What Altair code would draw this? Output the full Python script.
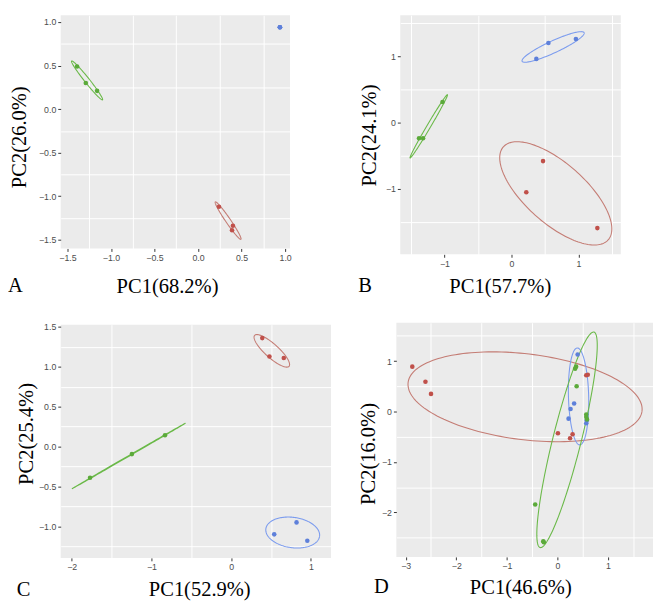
import altair as alt
import numpy as np
import pandas as pd

POINT_COLORS = {"red": "#C0504A", "green": "#5BAA3A", "blue": "#5E80DA"}
LINE_COLORS = {"red": "#C47C74", "green": "#6AB948", "blue": "#7C9CEE"}

# ---------------- Panel A ----------------
a_group = ["green", "green", "green", "red", "red", "red", "blue", "blue", "blue"]
a_x = [-1.39, -1.29, -1.16, 0.24, 0.40, 0.39, 0.94, 0.94, 0.94]
a_y = [0.49, 0.30, 0.21, -1.12, -1.34, -1.39, 0.94, 0.94, 0.94]
a_ell_group = ["green", "red"]
a_ell_cx = [-1.275, 0.345]
a_ell_cy = [0.33, -1.28]
a_ell_a = [0.285, 0.26]
a_ell_b = [0.028, 0.028]
a_ell_ang = [-51.5, -55.6]

# ---------------- Panel B ----------------
b_group = ["blue", "blue", "blue", "green", "green", "green", "red", "red", "red"]
b_x = [0.37, 0.55, 0.96, -1.03, -1.38, -1.32, 0.47, 0.22, 1.28]
b_y = [0.96, 1.20, 1.26, 0.31, -0.235, -0.235, -0.58, -1.05, -1.59]
b_ell_group = ["blue", "green", "red"]
b_ell_cx = [0.62, -1.235, 0.66]
b_ell_cy = [1.14, -0.056, -1.066]
b_ell_a = [0.51, 0.553, 1.05]
b_ell_b = [0.09, 0.028, 0.45]
b_ell_ang = [25.0, 59.7, -42.0]

# ---------------- Panel C ----------------
c_group = ["red", "red", "red", "green", "green", "green", "blue", "blue", "blue"]
c_x = [0.39, 0.48, 0.66, -1.77, -1.245, -0.83, 0.82, 0.54, 0.955]
c_y = [1.36, 1.13, 1.11, -0.39, -0.094, 0.143, -0.95, -1.10, -1.18]
c_ell_group = ["red", "green", "blue"]
c_ell_cx = [0.51, -1.282, 0.772]
c_ell_cy = [1.20, -0.116, -1.077]
c_ell_a = [0.29, 0.82, 0.34]
c_ell_b = [0.085, 0.004, 0.19]
c_ell_ang = [-42.0, 30.0, -8.0]

# ---------------- Panel D ----------------
d_group = (["red"] * 8) + (["blue"] * 6) + (["green"] * 9)
d_x = [-2.87, -2.61, -2.50, 0.57, 0.60, 0.01, 0.30, 0.25,
       0.40, 0.33, 0.26, 0.22, 0.57, 0.58,
       0.37, 0.35, 0.38, 0.57, 0.57, 0.585, -0.44, -0.28, -0.27]
d_y = [0.89, 0.59, 0.35, 0.72, 0.73, -0.43, -0.45, -0.53,
       1.13, 0.16, 0.05, -0.14, -0.23, -0.17,
       0.89, 0.85, 0.50, -0.06, -0.11, -0.155, -1.84, -2.57, -2.59]
d_ell_group = ["red", "blue", "green"]
d_ell_cx = [-0.64, 0.418, 0.19]
d_ell_cy = [0.293, 0.30, -0.56]
d_ell_a = [2.33, 0.96, 2.2]
d_ell_b = [0.85, 0.2, 0.28]
d_ell_ang = [-7.0, 91.5, 76.0]


def points_df(groups, xs, ys):
    return pd.DataFrame({
        "group": groups, "x": xs, "y": ys,
        "pc": [POINT_COLORS[g] for g in groups],
    })


def ellipse_df(groups, cx, cy, ra, rb, ang, n=160):
    rows = []
    t = np.linspace(0, 2 * np.pi, n)
    for g, x0, y0, a, b, th in zip(groups, cx, cy, ra, rb, ang):
        r = np.deg2rad(th)
        ex = x0 + a * np.cos(t) * np.cos(r) - b * np.sin(t) * np.sin(r)
        ey = y0 + a * np.cos(t) * np.sin(r) + b * np.sin(t) * np.cos(r)
        for i, (px, py) in enumerate(zip(ex, ey)):
            rows.append({"group": g, "x": px, "y": py, "i": i, "lc": LINE_COLORS[g]})
    return pd.DataFrame(rows)


def panel(pts, ell, xdom, ydom, xmaj, ymaj, xmin, ymin, xfmt, yfmt,
          xtitle, ytitle, letter, w, h, xt, yt, right_ext=0):
    xs = alt.Scale(domain=xdom, nice=False, zero=False)
    ys = alt.Scale(domain=ydom, nice=False, zero=False)
    minor = alt.Chart(pts).mark_point(opacity=0).encode(
        x=alt.X("x:Q", scale=xs, axis=alt.Axis(
            values=xmin, labels=False, ticks=False, domain=False, title=None,
            grid=True, gridColor="white", gridWidth=1.0, orient="top",
            minExtent=0, maxExtent=0, offset=0)),
        y=alt.Y("y:Q", scale=ys, axis=alt.Axis(
            values=ymin, labels=False, ticks=False, domain=False, title=None,
            grid=True, gridColor="white", gridWidth=1.0, orient="right",
            minExtent=right_ext, maxExtent=right_ext, offset=0)),
    )
    lines = alt.Chart(ell).mark_line(strokeWidth=1.1).encode(
        x=alt.X("x:Q", scale=xs, axis=alt.Axis(
            values=xmaj, format=xfmt, title=xtitle, orient="bottom",
            labelFlush=False,
            titleX=xt[0], titleY=xt[1], titleAlign="center",
            titleBaseline="alphabetic", titleAngle=0)),
        y=alt.Y("y:Q", scale=ys, axis=alt.Axis(
            values=ymaj, format=yfmt, title=ytitle, orient="left",
            labelFlush=False,
            titleX=yt[0], titleY=yt[1], titleAlign="center",
            titleBaseline="alphabetic", titleAngle=270)),
        color=alt.Color("lc:N", scale=None),
        detail="group:N",
        order="i:Q",
    )
    dots = alt.Chart(pts).mark_circle(size=22, opacity=1).encode(
        x=alt.X("x:Q", scale=xs, axis=None),
        y=alt.Y("y:Q", scale=ys, axis=None),
        color=alt.Color("pc:N", scale=None),
    )
    lab = alt.Chart(pd.DataFrame({"t": [letter[0]]})).mark_text(
        font="Liberation Serif", fontSize=21, align="left", baseline="alphabetic",
        color="black",
    ).encode(x=alt.value(letter[1]), y=alt.value(letter[2]), text="t:N")
    return alt.layer(minor, lines, dots, lab).resolve_axis(
        x="independent", y="independent").properties(width=w, height=h)


A = panel(points_df(a_group, a_x, a_y),
          ellipse_df(a_ell_group, a_ell_cx, a_ell_cy, a_ell_a, a_ell_b, a_ell_ang),
          [-1.578, 1.056], [-1.60, 1.078],
          [-1.5, -1.0, -0.5, 0.0, 0.5, 1.0], [-1.5, -1.0, -0.5, 0.0, 0.5, 1.0],
          [-1.25, -0.75, -0.25, 0.25, 0.75], [-1.25, -0.75, -0.25, 0.25, 0.75],
          ".1f", ".1f", "PC1(68.2%)", "PC2(26.0%)", ("A", -54, 284),
          235, 239, (109, 45), (-36, 124.5), right_ext=46)

B = panel(points_df(b_group, b_x, b_y),
          ellipse_df(b_ell_group, b_ell_cx, b_ell_cy, b_ell_a, b_ell_b, b_ell_ang),
          [-1.66, 1.63], [-1.985, 1.6175],
          [-1, 0, 1], [-1, 0, 1],
          [-1.5, -0.5, 0.5, 1.5], [-1.5, -0.5, 0.5, 1.5],
          "d", "d", "PC1(57.7%)", "PC2(24.1%)", ("B", -43, 284),
          226, 245, (102, 39), (-25.5, 122.7))

C = panel(points_df(c_group, c_x, c_y),
          ellipse_df(c_ell_group, c_ell_cx, c_ell_cy, c_ell_a, c_ell_b, c_ell_ang),
          [-2.138, 1.252], [-1.395, 1.528],
          [-2, -1, 0, 1], [-1.0, -0.5, 0.0, 0.5, 1.0, 1.5],
          [-1.5, -0.5, 0.5], [-1.25, -0.75, -0.25, 0.25, 0.75, 1.25],
          "d", ".1f", "PC1(52.9%)", "PC2(25.4%)", ("C", -45, 278),
          277, 239, (142, 39), (-28.5, 111.5))

D = panel(points_df(d_group, d_x, d_y),
          ellipse_df(d_ell_group, d_ell_cx, d_ell_cy, d_ell_a, d_ell_b, d_ell_ang),
          [-3.185, 1.89], [-2.88, 1.76],
          [-3, -2, -1, 0, 1], [-2, -1, 0, 1],
          [-2.5, -1.5, -0.5, 0.5, 1.5], [-2.5, -1.5, -0.5, 0.5, 1.5],
          "d", "d", "PC1(46.6%)", "PC2(16.0%)", ("D", -23, 277),
          263, 240, (127, 37), (-22, 134))

chart = alt.concat(
    A, B, C, D, columns=2, align="none",
    spacing={"row": 27.1, "column": 24},
).configure_view(fill="#EBEBEB", stroke=None).configure_axis(
    labelFont="Liberation Sans", labelFontSize=9, labelColor="#4D4D4D",
    tickColor="#333333", tickSize=3, tickWidth=1, labelPadding=2,
    labelFlush=False,
    domain=False, gridColor="white", gridWidth=1.5,
    titleFont="Liberation Serif", titleFontSize=21, titleFontWeight="normal",
    titleColor="black",
).properties(padding=0, background="white")

chart.save("out.html", embed_options={"renderer": "svg", "actions": False})
